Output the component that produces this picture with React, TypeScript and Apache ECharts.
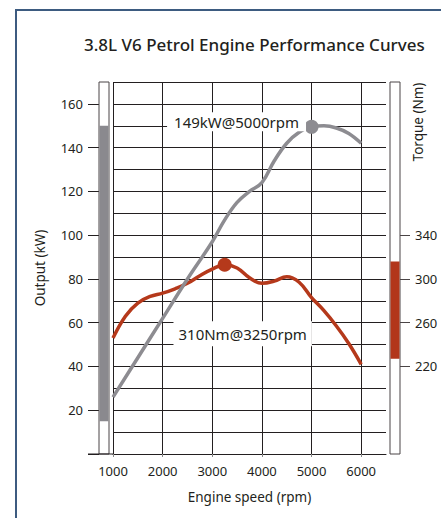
import React, { useEffect, useRef } from "react";
import * as echarts from "echarts";

// ---- data ----
const powerRpm = [1000, 1500, 2000, 2500, 3000, 3250, 3500, 3750, 4000, 4250, 4500, 4750, 5000, 5250, 5500, 5750, 6000];
const powerKw = [26, 44, 62, 80, 97, 107, 115, 120, 124, 134, 142, 147, 149.5, 150, 149, 146.5, 142];
const torqueRpm = [1000, 1250, 1500, 1750, 2000, 2250, 2500, 2750, 3000, 3250, 3500, 3750, 4000, 4250, 4500, 4750, 5000, 5250, 5500, 5750, 6000];
const torqueNm = [246, 266, 278, 284, 287, 291, 296, 303, 309, 313, 310, 301, 296, 298, 302, 297, 283, 271, 257, 241, 222];
const rpmTicks = [1000, 2000, 3000, 4000, 5000, 6000];
const kwTicks = [20, 40, 60, 80, 100, 120, 140, 160];
const kwTickMarks = [0, 20, 40, 60, 80, 100, 120, 140, 160];
const nmTicks = [220, 260, 300, 340];
const powerRange = [15, 150];
const torqueRange = [227, 316];
const powerPeak = [5000, 149.5];
const powerPeakLabel = "149kW@5000rpm";
const torquePeak = [3250, 313];
const torquePeakLabel = "310Nm@3250rpm";

const FONT = "Noto Sans";
const INK = "#231f20";
const GREY = "#8d8c91";
const RED = "#b5391b";

function barRenderer(side: "left" | "right", fill: string, topVal: number, botVal: number) {
  return (params: any, api: any) => {
    const cs = params.coordSys;
    const lo = api.value(0);
    const hi = api.value(1);
    const yTop = api.coord([1000, topVal])[1];
    const yBot = api.coord([1000, botVal])[1];
    const yHi = api.coord([1000, hi])[1];
    const yLo = api.coord([1000, lo])[1];
    const x0 = side === "left" ? cs.x - 14 : cs.x + cs.width + 4;
    const w = 10;
    const children: any[] = [
      {
        type: "rect",
        shape: { x: x0, y: yTop, width: w, height: yBot - yTop },
        style: { fill: "#fff", stroke: "#4a4446", lineWidth: 1 },
      },
      {
        type: "rect",
        shape: { x: x0 + 0.5, y: yHi, width: w - 1, height: yLo - yHi },
        style: { fill, stroke: null },
      },
    ];
    if (side === "left") {
      children.push({
        type: "line",
        shape: { x1: cs.x - 25, y1: yBot, x2: cs.x, y2: yBot },
        style: { stroke: INK, lineWidth: 1 },
      });
    }
    return { type: "group", children };
  };
}

export default function App() {
  const ref = useRef<HTMLDivElement>(null);
  useEffect(() => {
    document.body.style.margin = "0";
    const chart = echarts.init(ref.current!, null, { renderer: "svg" });
    const option: any = {
      animation: false,
      backgroundColor: "#fff",
      textStyle: { fontFamily: FONT, color: INK },
      title: {
        text: "3.8L V6 Petrol Engine Performance Curves",
        left: 79,
        top: 31,
        textStyle: { fontFamily: FONT, fontSize: 17, fontWeight: 500, color: INK },
      },
      grid: { left: 113, top: 82, width: 273, height: 372 },
      xAxis: {
        type: "value",
        min: 1000,
        max: 6500,
        interval: 500,
        name: "Engine speed (rpm)",
        nameLocation: "middle",
        nameGap: 36,
        nameTextStyle: { fontFamily: FONT, fontSize: 13.5, color: INK },
        axisLine: { show: true, lineStyle: { color: INK, width: 1 } },
        axisTick: { show: true, customValues: rpmTicks, length: 3, lineStyle: { color: "#888" } },
        axisLabel: {
          customValues: rpmTicks,
          formatter: (v: number) => String(v),
          fontFamily: FONT,
          fontSize: 13,
          color: INK,
          margin: 10,
        },
        splitLine: { show: true, lineStyle: { color: INK, width: 1 } },
      },
      yAxis: [
        {
          type: "value",
          min: 0,
          max: 170,
          interval: 10,
          position: "left",
          axisLine: { show: false },
          axisTick: { show: false },
          axisLabel: { show: false },
          splitLine: { show: true, lineStyle: { color: INK, width: 1 } },
        },
        {
          type: "value",
          min: 0,
          max: 170,
          position: "left",
          offset: 14,
          name: "Output (kW)",
          nameLocation: "middle",
          nameGap: 52,
          nameTextStyle: { fontFamily: FONT, fontSize: 13.5, color: INK },
          axisLine: { show: false },
          axisTick: { show: true, customValues: kwTickMarks, length: 11, lineStyle: { color: INK } },
          axisLabel: { customValues: kwTicks, fontFamily: FONT, fontSize: 13, color: INK, margin: 16 },
          splitLine: { show: false },
        },
        {
          type: "value",
          min: 140,
          max: 480,
          position: "right",
          offset: 14,
          axisLine: { show: false },
          axisTick: { show: true, customValues: nmTicks, length: 10, lineStyle: { color: "#4a4446" } },
          axisLabel: { customValues: nmTicks, fontFamily: FONT, fontSize: 13, color: INK, margin: 15 },
          splitLine: { show: false },
        },
      ],
      graphic: [
        {
          type: "polyline",
          shape: { points: [[16, 518], [16, 10], [441, 10]] },
          style: { stroke: "#3d5b80", lineWidth: 2, fill: null },
          z: 100,
        },
        {
          type: "text",
          x: 418,
          y: 122,
          rotation: Math.PI / 2,
          style: {
            text: "Torque (Nm)",
            fontFamily: FONT,
            fontSize: 13.5,
            fill: INK,
            align: "center",
            verticalAlign: "middle",
            textAlign: "center",
            textVerticalAlign: "middle",
          },
        },
      ],
      series: [
        {
          type: "custom",
          xAxisIndex: 0,
          yAxisIndex: 0,
          renderItem: barRenderer("left", "#8a898e", 170, 0),
          data: [[powerRange[0], powerRange[1]]],
          clip: false,
          silent: true,
          z: 1,
        },
        {
          type: "custom",
          xAxisIndex: 0,
          yAxisIndex: 2,
          renderItem: barRenderer("right", "#b2361b", 480, 140),
          data: [[torqueRange[0], torqueRange[1]]],
          clip: false,
          silent: true,
          z: 1,
        },
        {
          type: "line",
          name: "Torque",
          xAxisIndex: 0,
          yAxisIndex: 2,
          data: torqueRpm.map((r, i) => [r, torqueNm[i]]),
          smooth: 0.4,
          symbol: "none",
          lineStyle: { color: RED, width: 3.5 },
          z: 3,
          markPoint: {
            symbol: "circle",
            symbolSize: 14,
            itemStyle: { color: RED },
            data: [{ coord: torquePeak }],
            label: {
              show: true,
              formatter: torquePeakLabel,
              position: "inside",
              offset: [18, 69],
              fontFamily: FONT,
              fontSize: 15,
              color: INK,
              backgroundColor: "#fff",
              padding: [5, 5],
            },
          },
        },
        {
          type: "line",
          name: "Power",
          xAxisIndex: 0,
          yAxisIndex: 0,
          data: powerRpm.map((r, i) => [r, powerKw[i]]),
          smooth: 0.4,
          symbol: "none",
          lineStyle: { color: GREY, width: 3.5 },
          z: 4,
          markPoint: {
            symbol: "circle",
            symbolSize: 14,
            itemStyle: { color: GREY },
            data: [{ coord: powerPeak }],
            label: {
              show: true,
              formatter: powerPeakLabel,
              position: "inside",
              offset: [-75, -5],
              fontFamily: FONT,
              fontSize: 15,
              color: INK,
              backgroundColor: "#fff",
              padding: [2, 7],
            },
          },
        },
      ],
    };
    chart.setOption(option);
    return () => chart.dispose();
  }, []);
  return <div ref={ref} style={{ width: 441, height: 518 }} />;
}
